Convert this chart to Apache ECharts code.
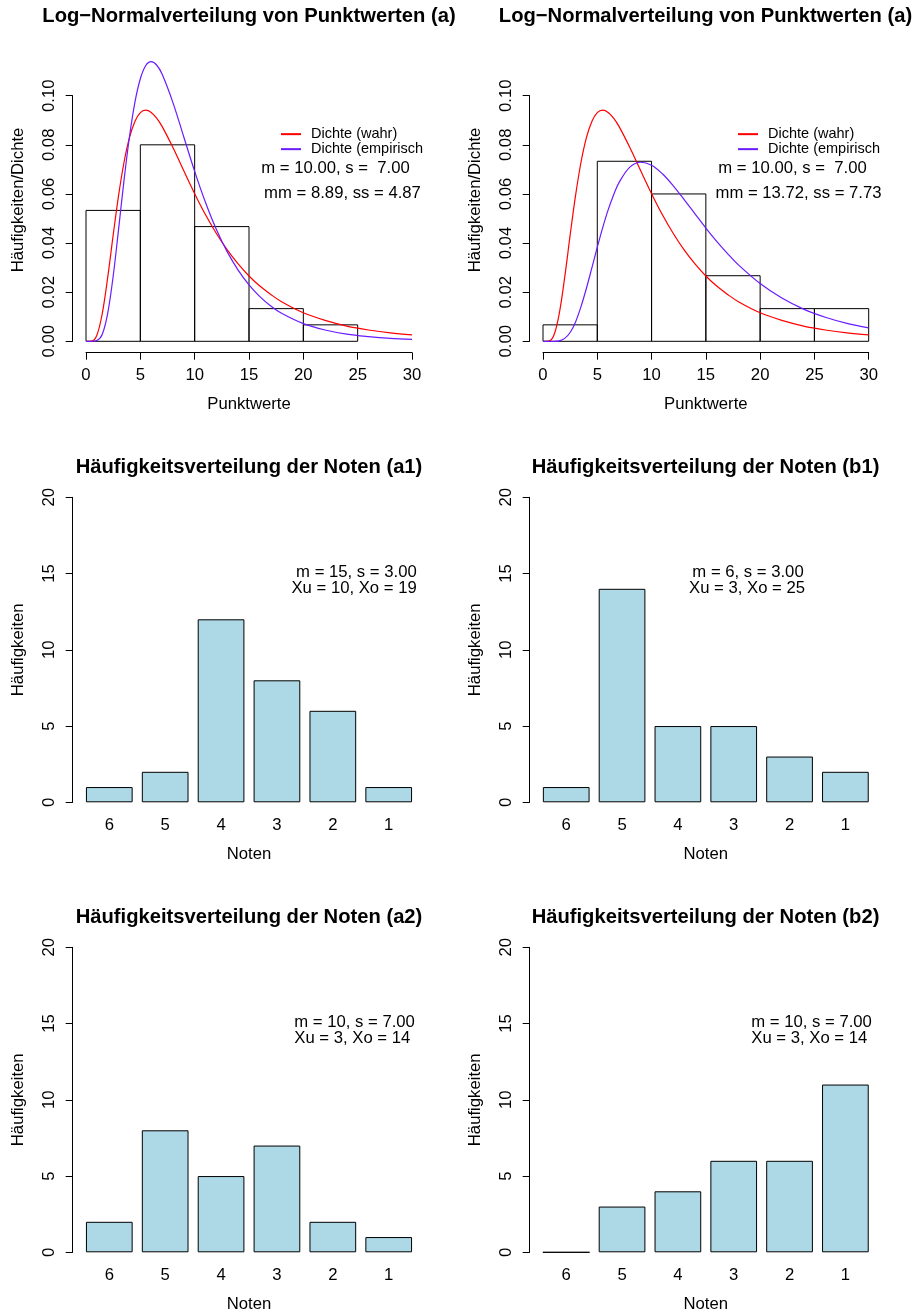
<!DOCTYPE html>
<html>
<head>
<meta charset="utf-8">
<title>Punktwerte und Noten</title>
<script src="https://cdn.jsdelivr.net/npm/echarts@6/dist/echarts.min.js"></script>
<style>
  html, body { margin: 0; padding: 0; background: #fff; }
  #chart { width: 917px; height: 1315px; }
</style>
</head>
<body>
<div id="chart"></div>
<script>
// x positions at which the density curves were read
const curveX = [0, 0.5, 1, 1.5, 2, 2.5, 3, 3.5, 4, 4.5, 5, 5.5, 6, 6.5, 7, 8, 9, 10,
  11, 12, 13, 14, 15, 16, 17, 18, 20, 22, 24, 26, 28, 30];
// red: "Dichte (wahr)", same in both top panels
const densTrue = [0, 0.0001, 0.0025, 0.0114, 0.0261, 0.0432, 0.0594, 0.0729, 0.0829, 0.0895,
  0.0931, 0.0941, 0.0932, 0.0909, 0.0875, 0.0789, 0.0694, 0.0601, 0.0515, 0.0439, 0.0372,
  0.0315, 0.0266, 0.0225, 0.0191, 0.0161, 0.0116, 0.0085, 0.0062, 0.0046, 0.0034, 0.0026];
// blue: "Dichte (empirisch)", left panel
const densEmpA = [0, 0, 0.0003, 0.0029, 0.0115, 0.0265, 0.0457, 0.0656, 0.0833, 0.0973,
  0.1069, 0.1123, 0.1139, 0.1125, 0.1088, 0.0972, 0.0832, 0.0692, 0.0565, 0.0455, 0.0364,
  0.0290, 0.0230, 0.0182, 0.0144, 0.0114, 0.0072, 0.0046, 0.0029, 0.0019, 0.0012, 0.0008];
// blue: "Dichte (empirisch)", right panel
const densEmpB = [0, 0, 0, 0.0002, 0.0012, 0.0036, 0.0079, 0.0141, 0.0216, 0.0299,
  0.0383, 0.0463, 0.0535, 0.0596, 0.0646, 0.0709, 0.0729, 0.0717, 0.0682, 0.0633, 0.0577,
  0.0519, 0.0461, 0.0407, 0.0357, 0.0311, 0.0235, 0.0176, 0.0131, 0.0098, 0.0073, 0.0055];

const breaksA = [0, 5, 10, 15, 20, 25];
const histA = [0.0533, 0.08, 0.0467, 0.0133, 0.0067];
const breaksB = [0, 5, 10, 15, 20, 25, 30];
const histB = [0.0067, 0.0733, 0.06, 0.0267, 0.0133, 0.0133];

const noten = ['6', '5', '4', '3', '2', '1'];
const freqA1 = [1, 2, 12, 8, 6, 1];
const freqB1 = [1, 14, 5, 5, 3, 2];
const freqA2 = [2, 8, 5, 7, 2, 1];
const freqB2 = [0, 3, 4, 6, 6, 11];

const xTicksTop = [0, 30, 5];       // min, max, step
const yTicksTop = [0, 0.1, 0.02];
const yTicksBar = [0, 20, 5];

const titleTop = 'Log\u2212Normalverteilung von Punktwerten (a)';
const titlesBar = ['Häufigkeitsverteilung der Noten (a1)', 'Häufigkeitsverteilung der Noten (b1)',
  'Häufigkeitsverteilung der Noten (a2)', 'Häufigkeitsverteilung der Noten (b2)'];
const legendNames = ['Dichte (wahr)', 'Dichte (empirisch)'];
const infoTopA = ['m = 10.00, s =  7.00', 'mm = 8.89, ss = 4.87'];
const infoTopB = ['m = 10.00, s =  7.00', 'mm = 13.72, ss = 7.73'];
const infoA1 = ['m = 15, s = 3.00', 'Xu = 10, Xo = 19'];
const infoB1 = ['m = 6, s = 3.00', 'Xu = 3, Xo = 25'];
const infoA2 = ['m = 10, s = 7.00', 'Xu = 3, Xo = 14'];
const infoB2 = ['m = 10, s = 7.00', 'Xu = 3, Xo = 14'];

const FONT = "'Liberation Sans', Arial, Helvetica, sans-serif";
const BLACK = '#000';
const LBL = 16.7;
const RED = '#ff0000';
const BLUE = '#6a1bff';
const BARFILL = '#add8e6';

const zip = (xs, ys) => xs.map((x, i) => [x, ys[i]]);
const bins = (br, d) => d.map((v, i) => [br[i], br[i + 1], v]);

const axisLine = { show: true, onZero: false, lineStyle: { color: BLACK, width: 1 } };
const axisTick = { show: true, length: 7, lineStyle: { color: BLACK, width: 1 } };
const nameStyle = { fontSize: LBL, color: BLACK, fontFamily: FONT };

const topX = (gi) => ({
  type: 'value', gridIndex: gi, min: xTicksTop[0], max: xTicksTop[1], interval: xTicksTop[2],
  offset: 11.4, name: 'Punktwerte', nameLocation: 'middle', nameGap: 43.4,
  nameTextStyle: nameStyle, axisLine, axisTick, splitLine: { show: false },
  axisLabel: { fontSize: LBL, color: BLACK, margin: 14 }
});
const topY = (gi) => ({
  type: 'value', gridIndex: gi, min: yTicksTop[0], max: yTicksTop[1], interval: yTicksTop[2],
  offset: 13.3, name: 'Häufigkeiten/Dichte', nameLocation: 'middle', nameGap: 45.8,
  nameTextStyle: Object.assign({ padding: [0, 0, 0, 37] }, nameStyle),
  axisLine, axisTick, splitLine: { show: false },
  axisLabel: { fontSize: LBL, color: BLACK, margin: 15, rotate: 90, formatter: v => v.toFixed(2) }
});
const barX = (gi) => ({
  type: 'category', gridIndex: gi, data: noten, name: 'Noten', nameLocation: 'middle', nameGap: 43.8,
  nameTextStyle: nameStyle, axisLine: { show: false }, axisTick: { show: false },
  axisLabel: { fontSize: LBL, color: BLACK, margin: 15 }
});
const barY = (gi, off) => ({
  type: 'value', gridIndex: gi, min: yTicksBar[0], max: yTicksBar[1], interval: yTicksBar[2],
  offset: off, name: 'Häufigkeiten', nameLocation: 'middle', nameGap: 45.8,
  nameTextStyle: nameStyle, axisLine, axisTick, splitLine: { show: false },
  axisLabel: { fontSize: LBL, color: BLACK, margin: 15, rotate: 90 }
});

const histSeries = (gi, data) => ({
  type: 'custom', xAxisIndex: gi, yAxisIndex: gi, data, silent: true,
  encode: { x: [0, 1], y: 2 },
  renderItem: (params, api) => {
    const p0 = api.coord([api.value(0), 0]);
    const p1 = api.coord([api.value(1), api.value(2)]);
    return {
      type: 'rect',
      shape: { x: p0[0], y: p1[1], width: p1[0] - p0[0], height: p0[1] - p1[1] },
      style: { fill: 'none', stroke: BLACK, lineWidth: 1 }
    };
  }
});
const curveSeries = (gi, name, ys, color) => ({
  type: 'line', name, xAxisIndex: gi, yAxisIndex: gi, data: zip(curveX, ys),
  smooth: 0.35, symbol: 'none', clip: false, silent: true,
  lineStyle: { color, width: 1.2 }, itemStyle: { color }
});
const barSeries = (gi, values) => ({
  type: 'bar', xAxisIndex: gi, yAxisIndex: gi, data: values, barWidth: 46.7, silent: true,
  itemStyle: { color: BARFILL, borderColor: BLACK, borderWidth: 1 }
});

const legendAt = (left) => ({
  left, top: 126.65, orient: 'vertical', padding: 0, itemGap: 0, itemWidth: 20, itemHeight: 13.3,
  selectedMode: false, data: legendNames,
  itemStyle: { opacity: 0 },
  textStyle: { fontSize: 14.5, lineHeight: 13.3, color: BLACK, fontFamily: FONT,
    padding: [0, 0, 0, 5], width: 115, overflow: 'truncate', ellipsis: '' }
});

const txt = (x, y, text, align) => ({
  type: 'text', x, y, silent: true,
  style: { text, fontSize: LBL, fontFamily: FONT, fill: BLACK, align, verticalAlign: 'middle' }
});

const titleAt = (text, cx, top) => ({
  text, left: cx, top, textAlign: 'center', padding: 0,
  textStyle: { fontSize: 20.2, fontWeight: 'bold', color: BLACK, fontFamily: FONT }
});

const chart = echarts.init(document.getElementById('chart'));
chart.setOption({
  animation: false,
  backgroundColor: '#fff',
  textStyle: { fontFamily: FONT },
  title: [
    titleAt(titleTop, 249, 6),
    titleAt(titleTop, 705.5, 6),
    titleAt(titlesBar[0], 249, 457.4),
    titleAt(titlesBar[1], 705.5, 457.4),
    titleAt(titlesBar[2], 249, 907.4),
    titleAt(titlesBar[3], 705.5, 907.4)
  ],
  legend: [legendAt(280), legendAt(737)],
  grid: [
    { left: 86, top: 95.7, width: 326, height: 245.6 },
    { left: 543, top: 95.7, width: 325.7, height: 245.6 },
    { left: 81.35, top: 497.3, width: 335.3, height: 305 },
    { left: 538.3, top: 497.3, width: 335, height: 305 },
    { left: 81.35, top: 947.3, width: 335.3, height: 305 },
    { left: 538.3, top: 947.3, width: 335, height: 305 }
  ],
  xAxis: [topX(0), topX(1), barX(2), barX(3), barX(4), barX(5)],
  yAxis: [topY(0), topY(1), barY(2, 8.65), barY(3, 8.6), barY(4, 8.65), barY(5, 8.6)],
  series: [
    histSeries(0, bins(breaksA, histA)),
    curveSeries(0, legendNames[0], densTrue, RED),
    curveSeries(0, legendNames[1], densEmpA, BLUE),
    histSeries(1, bins(breaksB, histB)),
    curveSeries(1, legendNames[0], densTrue, RED),
    curveSeries(1, legendNames[1], densEmpB, BLUE),
    barSeries(2, freqA1),
    barSeries(3, freqB1),
    barSeries(4, freqA2),
    barSeries(5, freqB2)
  ],
  graphic: [
    txt(335.5, 168.5, infoTopA[0], 'center'),
    txt(342.5, 193, infoTopA[1], 'center'),
    txt(792.5, 168.5, infoTopB[0], 'center'),
    txt(798.5, 193, infoTopB[1], 'center'),
    txt(416.7, 572.7, infoA1[0], 'right'),
    txt(416.7, 588.3, infoA1[1], 'right'),
    txt(748, 572.7, infoB1[0], 'center'),
    txt(747, 588.3, infoB1[1], 'center'),
    txt(294.3, 1022.7, infoA2[0], 'left'),
    txt(294.3, 1038.3, infoA2[1], 'left'),
    txt(751.3, 1022.7, infoB2[0], 'left'),
    txt(751.3, 1038.3, infoB2[1], 'left')
  ]
});
</script>
</body>
</html>
